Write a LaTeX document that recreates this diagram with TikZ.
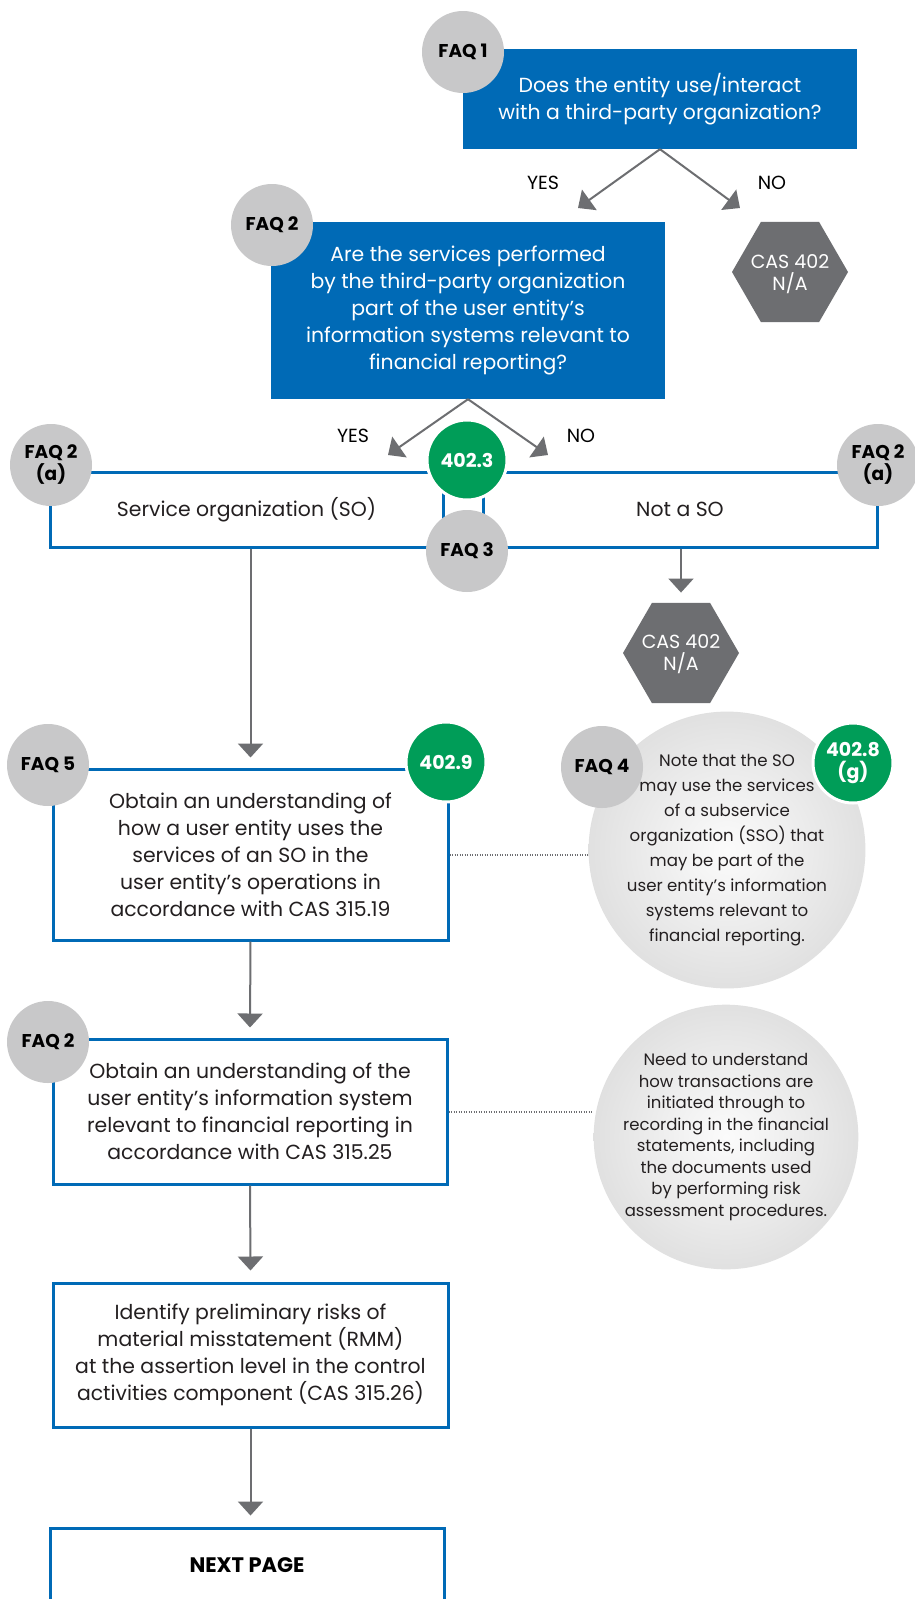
\documentclass[tikz,border=0pt]{standalone}
\usepackage{fontspec}
\setmainfont{Poppins}
\usetikzlibrary{shapes.geometric,arrows.meta}

\definecolor{cpablue}{RGB}{0,106,182}
\definecolor{faqgrey}{RGB}{200,200,201}
\definecolor{refgreen}{RGB}{0,157,88}
\definecolor{hexgrey}{RGB}{109,110,113}
\definecolor{arrowgrey}{RGB}{109,110,113}
\definecolor{inkdark}{RGB}{35,31,32}

\tikzset{
  boxfont/.style={font=\fontsize{20.4}{27}\selectfont},
  qbox/.style={rectangle, fill=cpablue, text=white, align=center, inner sep=0pt, boxfont},
  stepbox/.style={rectangle, draw=cpablue, line width=3pt, fill=white, align=center,
    text=inkdark, inner sep=0pt, boxfont},
  faq/.style={circle, fill=faqgrey, minimum size=82pt, inner sep=0pt, align=center,
    text=black, font=\bfseries\fontsize{18.5}{22}\selectfont},
  para/.style={circle, fill=refgreen, draw=white, line width=3pt, minimum size=80pt,
    inner sep=0pt, align=center, text=white, font=\bfseries\fontsize{19}{22}\selectfont},
  hexna/.style={regular polygon, regular polygon sides=6, fill=hexgrey,
    minimum size=116pt, inner sep=0pt},
  hextext/.style={text=white, align=center, inner sep=0pt, font=\fontsize{19}{22}\selectfont},
  notecirc/.style={circle, inner color=gray!3, outer color=gray!24, minimum size=266pt,
    inner sep=0pt, align=center, text=inkdark},
  lbl/.style={text=black, font=\fontsize{19}{22}\selectfont},
  arr/.style={draw=arrowgrey, line width=2pt, -{Triangle[width=25pt,length=14pt]}},
  dotline/.style={draw=arrowgrey, line width=2pt, dash pattern=on 1pt off 1.5pt},
}

\begin{document}
\begin{tikzpicture}[x=1pt, y=-1pt]
  \useasboundingbox (0,0) rectangle (915,1599);
  \fill[white] (0,0) rectangle (915,1599);
  \clip (0,0) rectangle (915,1599);

  % first question and its answers
  \node[qbox, minimum width=394pt, minimum height=100pt] (q1) at (660,99)
    {Does the entity use/interact\\with a third-party organization?};
  \node[faq] (faq1) at (463,52) {FAQ 1};
  \node[hexna] (na1) at (790,272) {};
  \node[hextext] (na1t) at ([yshift=-2pt]na1.center) {CAS 402\\N/A};
  \coordinate (yes1) at (578,208);
  \coordinate (no1) at (740,208);
  \draw[arr] (q1.south) -- (yes1);
  \draw[arr] (q1.south) -- (no1);
  \node[lbl] (yes1l) at (543,183) {YES};
  \node[lbl] (no1l) at (772,183) {NO};

  % second question
  \node[qbox, minimum width=394pt, minimum height=177pt] (q2) at (468,310.5)
    {Are the services performed\\by the third-party organization\\part of the user entity’s\\information systems relevant to\\financial reporting?};
  \node[faq] (faq2) at (272,225) {FAQ 2};
  \coordinate (yes2) at (388,455);
  \coordinate (no2) at (548,455);
  \draw[arr] (q2.south) -- (yes2);
  \draw[arr] (q2.south) -- (no2);
  \node[lbl] (yes2l) at (353,436) {YES};
  \node[lbl] (no2l) at (581,436) {NO};

  % service organization / not a service organization
  \node[stepbox, minimum width=393pt, minimum height=75pt] (so) at (246.5,509.5)
    {Service organization (SO)};
  \node[stepbox, minimum width=394pt, minimum height=75pt] (notso) at (680,509.5)
    {Not a SO};
  \node[para] (p3) at (467,460) {402.3};
  \node[faq] (faq3) at (467,551) {FAQ 3};
  \node[faq] (faq2al) at (51,465) {FAQ 2\\(a)};
  \node[faq] (faq2ar) at (878,465) {FAQ 2\\(a)};
  \node[hexna] (na2) at (681,653) {};
  \node[hextext] (na2t) at ([yshift=-1pt]na2.center) {CAS 402\\N/A};
  \draw[arr] (notso.south -| na2.north) -- ([yshift=10pt]na2.north);

  % understanding of the use of the SO
  \node[stepbox, minimum width=395pt, minimum height=171pt] (s1) at (250.5,854.5)
    {Obtain an understanding of\\how a user entity uses the\\services of an SO in the\\user entity’s operations in\\accordance with CAS 315.19};
  \node[faq] (faq5) at (48,765) {FAQ 5};
  \node[para] (p9) at (446,762) {402.9};
  \draw[arr] (s1.north |- so.south) -- ([yshift=10pt]s1.north);

  \node[notecirc, font=\fontsize{16.6}{25}\selectfont] (note1) at (727,850)
    {Note that the SO\\may use the services\\of a subservice\\organization (SSO) that\\may be part of the\\user entity’s information\\systems relevant to\\financial reporting.};
  \node[faq] (faq4) at (602,767) {FAQ 4};
  \node[para] (p8) at (853,763) {402.8\\(g)};
  \draw[dotline] (s1.east) -- (s1.east -| note1.west);

  % understanding of the information system
  \node[stepbox, minimum width=394pt, minimum height=145pt] (s2) at (250,1111.5)
    {Obtain an understanding of the\\user entity’s information system\\relevant to financial reporting in\\accordance with CAS 315.25};
  \node[faq] (faq2b) at (48,1042) {FAQ 2};
  \draw[arr] (s1.south) -- ([yshift=10pt]s2.north);

  \node[notecirc, minimum size=264pt, font=\fontsize{16.5}{21.5}\selectfont] (note2) at (726,1137)
    {Need to understand\\how transactions are\\initiated through to\\recording in the financial\\statements, including\\the documents used\\by performing risk\\assessment procedures.};
  \draw[dotline] (s2.east) -- (s2.east -| note2.west);

  % preliminary risks
  \node[stepbox, minimum width=395pt, minimum height=144pt] (s3) at (250.5,1355)
    {Identify preliminary risks of\\material misstatement (RMM)\\at the assertion level in the control\\activities component (CAS 315.26)};
  \draw[arr] (s2.south) -- ([yshift=11pt]s3.north);

  % continuation box
  \node[stepbox, minimum width=394pt, minimum height=122pt] (next) at (247,1589) {};
  \node[text=black, font=\bfseries\fontsize{21}{24}\selectfont] (nexttxt) at (247,1565) {NEXT PAGE};
  \draw[arr] (s3.south) -- ([yshift=11pt]s3.south |- next.north);
\end{tikzpicture}
\end{document}
